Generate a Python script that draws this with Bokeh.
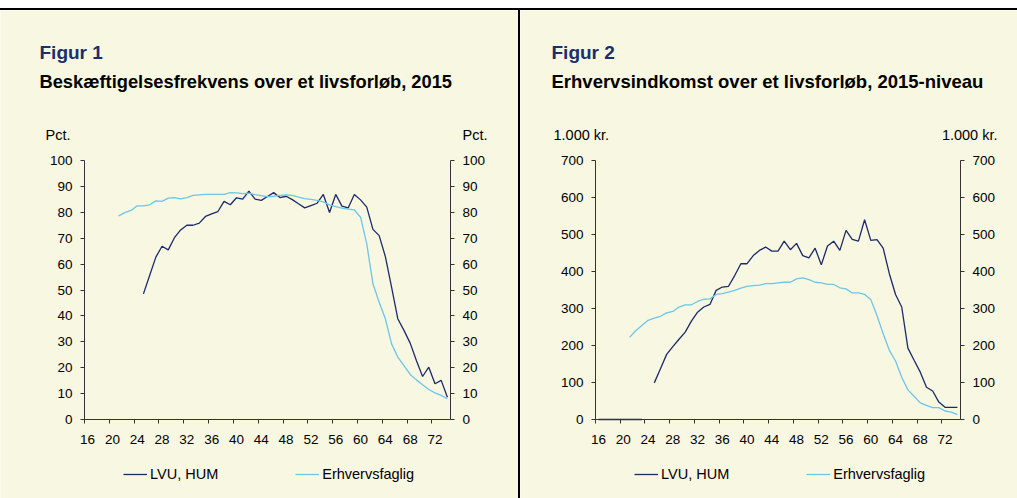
from bokeh.plotting import figure
from bokeh.models import (Range1d, LinearAxis, FixedTicker, Label, Legend,
                          LegendItem, Div)
from bokeh.layouts import row, column
from bokeh.embed import file_html
from bokeh.resources import INLINE

NaN = float("nan")

# ---------------- data ----------------
ages = list(range(16, 75))
x_labels = [16, 20, 24, 28, 32, 36, 40, 44, 48, 52, 56, 60, 64, 68, 72]

# Figure 1: employment rate (pct.)
emp_lvu_start = 25
emp_lvu = [48.5, 55.6, 62.7, 66.9, 65.5, 70.2, 73.2, 75.0, 75.0, 75.8,
           78.4, 79.4, 80.3, 84.2, 82.9, 85.6, 85.1, 88.2, 85.1, 84.6,
           86.1, 87.6, 85.7, 86.2, 84.9, 83.3, 81.7, 82.6, 83.5, 86.9,
           79.9, 86.9, 82.4, 81.7, 86.9, 84.8, 82.0, 73.4, 71.0, 62.9,
           51.1, 38.9, 34.4, 29.5, 22.8, 16.6, 20.2, 13.8, 15.1, 8.6]
emp_erh_start = 21
emp_erh = [78.6, 79.9, 80.7, 82.5, 82.5, 82.9, 84.4, 84.2, 85.5, 85.7,
           85.2, 85.7, 86.5, 86.7, 86.9, 86.9, 86.9, 86.9, 87.6, 87.5,
           87.2, 87.4, 86.8, 86.4, 86.0, 86.2, 86.5, 86.7, 86.5, 85.9,
           85.3, 85.0, 84.6, 84.0, 82.9, 82.2, 81.6, 81.2, 80.9, 78.1,
           67.8, 52.4, 45.3, 38.9, 29.2, 24.1, 20.8, 17.4, 15.3, 13.4,
           11.6, 10.3, 9.3, 8.0]

# Figure 2: income (1.000 kr.)
inc_lvu_start = 16
inc_lvu = [0, 0, 0, 0, 0, 0, 0, 0, NaN,
           99, 137, 176, 197, 217, 236, 266, 290, 304, 311,
           349, 358, 360, 389, 421, 421, 443, 457, 466, 455,
           455, 482, 459, 476, 443, 437, 463, 418, 469, 482,
           457, 511, 487, 482, 540, 484, 486, 463, 394, 338,
           304, 193, 160, 128, 87, 77, 47, 33, 33, 33]
inc_erh_start = 21
inc_erh = [222, 240, 254, 268, 274, 279, 288, 292, 304, 310,
           310, 319, 325, 326, 338, 340, 344, 349, 355, 360,
           362, 363, 367, 367, 369, 371, 371, 380, 383, 378,
           371, 369, 365, 365, 356, 353, 342, 342, 338, 324,
           281, 232, 187, 158, 114, 80, 63, 45, 38, 32,
           32, 23, 20, 13]

# ---------------- style ----------------
BG = "#F8F7E2"
AX = "#333333"
NAVY = "#1B2F6E"
DARK = "#1C2A6A"
LIGHT = "#6CC6EA"
FONT = "Liberation Sans"

PANEL_H = 488
X0, X1 = 15.5, 74.5     # category edges of the plotted age span


def series_x(start, vals):
    return ages[start - 16:start - 16 + len(vals)]


def make_panel(width, ax_left, ax_right, ax_zero, ax_top, ymax, ystep,
               fig_title, sub_title, sub_size, unit, unit_lx, unit_rx,
               title_x, legend_x, lvu, erh):
    # pixel geometry of the plotting box inside this panel's canvas
    kx = (ax_right - ax_left) / (X1 - X0)
    ky = (ax_zero - ax_top) / ymax
    xr = Range1d(X0 - ax_left / kx, X1 + (width - ax_right) / kx)
    yr = Range1d(-(PANEL_H - ax_zero) / ky, ymax + ax_top / ky)

    def dx(px):
        return X0 + (px - ax_left) / kx

    def dy(py):
        return (ax_zero - py) / ky

    p = figure(width=width, height=PANEL_H, x_range=xr, y_range=yr,
               output_backend="svg", toolbar_location=None,
               title_location=None,
               min_border=0, min_border_left=0, min_border_right=0,
               min_border_top=0, min_border_bottom=0,
               background_fill_color=BG, border_fill_color=BG,
               outline_line_color=None,
               x_axis_location=None, y_axis_location=None)
    p.xgrid.grid_line_color = None
    p.ygrid.grid_line_color = None

    xa = LinearAxis(fixed_location=0, bounds=(X0, X1))
    xa.ticker = FixedTicker(ticks=x_labels,
                            minor_ticks=[t - 0.5 for t in x_labels])
    xa.major_tick_in = 0
    xa.major_tick_out = 0
    xa.minor_tick_in = 0
    xa.minor_tick_out = 4
    xa.minor_tick_line_color = AX
    xa.axis_line_color = AX
    xa.major_label_standoff = 11
    xa.major_label_text_font = FONT
    xa.major_label_text_font_size = "13.5px"
    xa.major_label_text_color = "black"
    p.add_layout(xa, "below")

    yticks = list(range(0, ymax + 1, ystep))
    ya = LinearAxis(fixed_location=X0, bounds=(0, ymax))
    ra = LinearAxis(fixed_location=X1, bounds=(0, ymax))
    for a in (ya, ra):
        a.ticker = FixedTicker(ticks=yticks, minor_ticks=[])
        a.major_tick_in = 0
        a.major_tick_out = 4
        a.major_tick_line_color = AX
        a.axis_line_color = AX
        a.major_label_standoff = 8
        a.major_label_text_font = FONT
        a.major_label_text_font_size = "13.5px"
        a.major_label_text_color = "black"
    p.add_layout(ya, "left")
    p.add_layout(ra, "right")

    r1 = p.line(series_x(lvu[0], lvu[1]), lvu[1], line_color=DARK,
                line_width=1.3)
    r2 = p.line(series_x(erh[0], erh[1]), erh[1], line_color=LIGHT,
                line_width=1.3)

    def add_text(px, py, text, size, bold=False, color="black",
                 align="left"):
        p.add_layout(Label(x=dx(px), y=dy(py), text=text,
                           text_font=FONT, text_font_size=size,
                           text_font_style="bold" if bold else "normal",
                           text_color=color, text_baseline="alphabetic",
                           text_align=align))

    add_text(title_x, 42, fig_title, "19px", True, NAVY)
    add_text(title_x, 71, sub_title, sub_size, True)
    add_text(unit_lx, 124, unit, "14.5px")
    add_text(unit_rx, 124, unit, "14.5px", align="right")

    legend = Legend(items=[LegendItem(label="LVU, HUM", renderers=[r1]),
                           LegendItem(label="Erhvervsfaglig", renderers=[r2])],
                    orientation="horizontal", location=(legend_x, 14),
                    background_fill_alpha=0, border_line_color=None,
                    padding=0, margin=0, spacing=77,
                    glyph_width=24, glyph_height=20, label_height=20,
                    label_standoff=3, label_text_font=FONT,
                    label_text_font_size="14.5px", label_text_color="black")
    p.add_layout(legend)
    return p


p1 = make_panel(518, 84, 450, 409, 150, 100, 10, "Figur 1",
                "Beskæftigelsesfrekvens over et livsforløb, 2015", "18.3px",
                "Pct.", 45, 487, 39, 123,
                (emp_lvu_start, emp_lvu), (emp_erh_start, emp_erh))
p2 = make_panel(497, 75, 440, 409, 150, 700, 100, "Figur 2",
                "Erhvervsindkomst over et livsforløb, 2015-niveau", "18.5px",
                "1.000 kr.", 33, 477, 31, 114,
                (inc_lvu_start, inc_lvu), (inc_erh_start, inc_erh))

top_space = Div(width=1017, height=8, margin=0,
                styles={"background-color": "white"})
top_line = Div(width=1017, height=2, margin=0,
               styles={"background-color": "black"})
sep = Div(width=2, height=PANEL_H, margin=0,
          styles={"background-color": "black"})

layout = column(top_space, top_line, row(p1, sep, p2, spacing=0), spacing=0)

open("out.html", "w").write(file_html(layout, INLINE))
